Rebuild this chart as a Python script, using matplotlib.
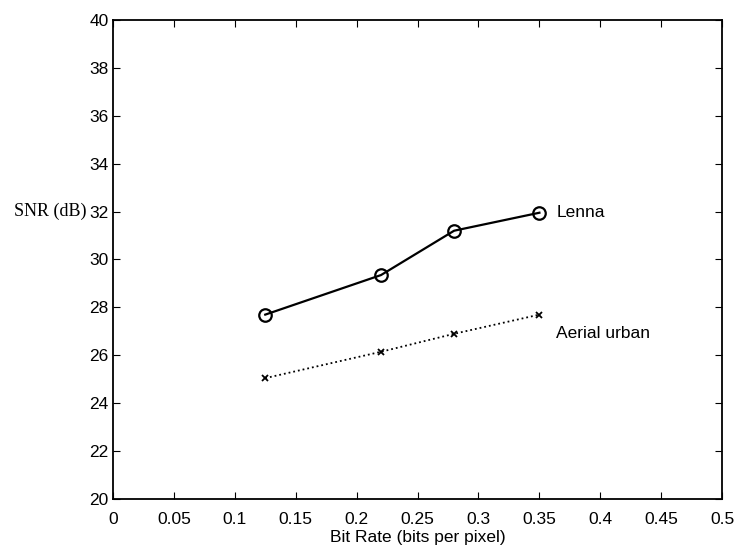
import matplotlib
matplotlib.use("Agg")
import matplotlib.pyplot as plt

bit_rate = [0.125, 0.22, 0.28, 0.35]
lenna_snr = [27.7, 29.35, 31.2, 31.95]
aerial_snr = [25.05, 26.15, 26.9, 27.7]
xticks = [0, 0.05, 0.1, 0.15, 0.2, 0.25, 0.3, 0.35, 0.4, 0.45, 0.5]
yticks = [20, 22, 24, 26, 28, 30, 32, 34, 36, 38, 40]

plt.rcParams["font.family"] = ["Liberation Sans", "DejaVu Sans"]

fig = plt.figure(figsize=(7.43, 5.48), dpi=100)
ax = fig.add_axes([0.152, 0.089, 0.82, 0.875])

ax.plot(bit_rate, lenna_snr, "-o", color="black", lw=1.6, ms=9,
        mfc="none", mew=1.6)
ax.plot(bit_rate, aerial_snr, ":x", color="black", lw=1.3, ms=5, mew=1.3)

ax.text(0.364, lenna_snr[-1], "Lenna", fontsize=12.5, va="center", ha="left")
ax.text(0.364, 26.9, "Aerial urban", fontsize=12.5, va="center", ha="left")

ax.set_xlim(0, 0.5)
ax.set_ylim(20, 40)
ax.set_xticks(xticks)
ax.set_xticklabels([f"{t:g}" for t in xticks])
ax.set_yticks(yticks)
ax.tick_params(direction="in", top=True, right=True, labelsize=12.5,
               length=5, pad=3)
ax.tick_params(axis="x", pad=9)
ax.set_xlabel("Bit Rate (bits per pixel)", fontsize=12.5, labelpad=2)
ax.set_ylabel("SNR (dB)", fontsize=13, rotation=0, family="Liberation Serif",
              ha="right", va="center")
ax.yaxis.set_label_coords(-0.043, 0.6)
for s in ax.spines.values():
    s.set_linewidth(1.3)

fig.savefig("out.png", dpi=100)
